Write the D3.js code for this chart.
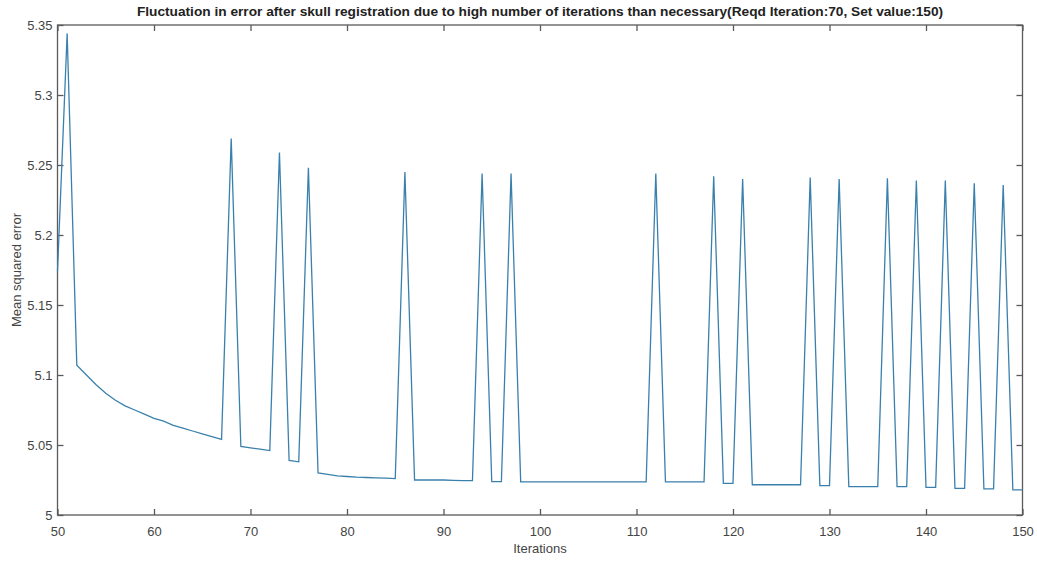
<!DOCTYPE html>
<html><head><meta charset="utf-8">
<script src="https://cdn.jsdelivr.net/npm/d3@7/dist/d3.min.js"></script>
<style>body{margin:0;background:#fff;} text{font-family:"Liberation Sans",Arial,sans-serif;}</style>
</head><body><svg id="c" width="1037" height="561"></svg>
<script>
const title = "Fluctuation in error after skull registration due to high number of iterations than necessary(Reqd Iteration:70, Set value:150)";
const xLabel = "Iterations";
const yLabel = "Mean squared error";
const xTicks = [50,60,70,80,90,100,110,120,130,140,150];
const yTicks = [5,5.05,5.1,5.15,5.2,5.25,5.3,5.35];
const iterations = d3.range(50,151);
const mse = [
 5.174,5.344,5.107,5.100,5.093,5.087,5.082,5.078,5.075,5.072, // 50-59
 5.069,5.067,5.064,5.062,5.060,5.058,5.056,5.054,5.269,5.049, // 60-69
 5.048,5.047,5.046,5.259,5.039,5.038,5.248,5.030,5.029,5.028, // 70-79
 5.0275,5.027,5.0268,5.0265,5.0263,5.026,5.245,5.025,5.025,5.025, // 80-89
 5.025,5.0248,5.0246,5.0245,5.244,5.0238,5.0238,5.244,5.0237,5.0237, // 90-99
 5.0237,5.0237,5.0237,5.0237,5.0237,5.0237,5.0237,5.0237,5.0237,5.0237, // 100-109
 5.0237,5.0237,5.244,5.0236,5.0236,5.0236,5.0236,5.0236,5.242,5.0226, // 110-119
 5.0226,5.240,5.0216,5.0216,5.0216,5.0216,5.0216,5.0216,5.241,5.021, // 120-129
 5.021,5.240,5.0203,5.0203,5.0203,5.0203,5.2405,5.0202,5.0202,5.239, // 130-139
 5.0197,5.0197,5.239,5.019,5.019,5.237,5.0186,5.0186,5.2357,5.018, // 140-149
 5.018 // 150
];
const svg = d3.select("#c");
const L=57.5, R=1022.5, T=25, B=515;
const x = d3.scaleLinear().domain([50,150]).range([L,R]);
const y = d3.scaleLinear().domain([5,5.35]).range([B,T]);
const axisColor="#5a5a5a", textColor="#444";

svg.append("rect").attr("x",L).attr("y",T).attr("width",R-L).attr("height",B-T)
  .attr("fill","none").attr("stroke",axisColor).attr("stroke-width",1.3);

function styleAxis(g){
  g.select(".domain").remove();
  g.selectAll(".tick line").attr("stroke",axisColor).attr("stroke-width",1.3);
  g.selectAll(".tick text").attr("fill",textColor).style("font-size","13px").style("font-family","'Liberation Sans',Arial,sans-serif");
}
const fmt = d => d3.format("")(+d.toFixed(2));
svg.append("g").attr("transform",`translate(0,${B})`)
  .call(d3.axisBottom(x).tickValues(xTicks).tickSize(-6).tickPadding(12).tickFormat(fmt)).call(styleAxis);
svg.append("g").attr("transform",`translate(0,${T})`)
  .call(d3.axisTop(x).tickValues(xTicks).tickSize(-6).tickFormat("")).call(styleAxis);
svg.append("g").attr("transform",`translate(${L},0)`)
  .call(d3.axisLeft(y).tickValues(yTicks).tickSize(-6).tickPadding(5).tickFormat(fmt)).call(styleAxis);
svg.append("g").attr("transform",`translate(${R},0)`)
  .call(d3.axisRight(y).tickValues(yTicks).tickSize(-6).tickFormat("")).call(styleAxis);

const line = d3.line().x((d,i)=>x(iterations[i])).y(d=>y(d));
svg.append("path").datum(mse).attr("d",line).attr("fill","none")
  .attr("stroke","#3a80ad").attr("stroke-width",1.3).attr("stroke-linejoin","miter");

svg.append("text").attr("x",540).attr("y",16).attr("text-anchor","middle")
  .attr("font-weight","bold").attr("font-size","13.7px").attr("fill","#222").text(title);
svg.append("text").attr("x",(L+R)/2).attr("y",553).attr("text-anchor","middle")
  .attr("font-size","13px").attr("fill",textColor).text(xLabel);
svg.append("text").attr("transform",`translate(21,${(T+B)/2}) rotate(-90)`).attr("text-anchor","middle")
  .attr("font-size","13px").attr("fill",textColor).text(yLabel);
</script></body></html>
